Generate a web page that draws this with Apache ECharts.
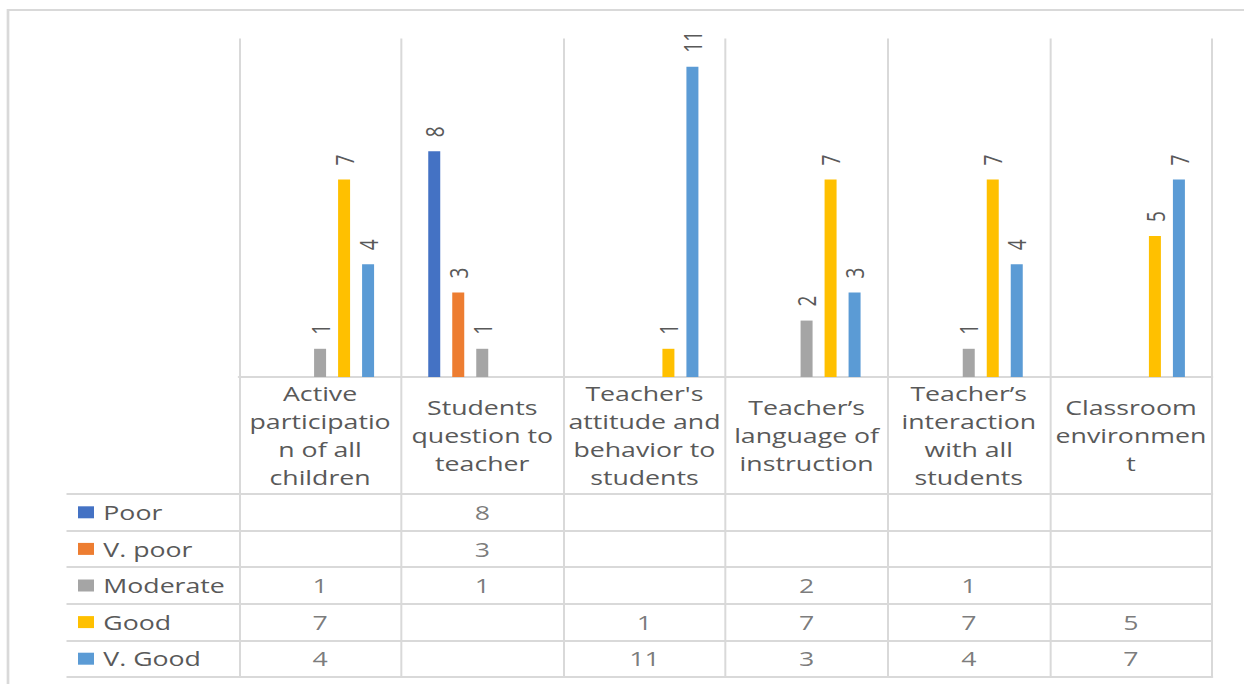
<!DOCTYPE html>
<html>
<head>
<meta charset="utf-8">
<script src="https://cdn.jsdelivr.net/npm/echarts@6/dist/echarts.min.js"></script>
<style>
  html, body { margin: 0; padding: 0; background: #fff; overflow: hidden; }
  #wrap { width: 1244px; height: 684px; overflow: hidden; }
  /* The figure is laid out in a narrower box and widened horizontally. */
  #chart { width: 933px; height: 684px; transform: scaleX(1.33333); transform-origin: 0 0; }
</style>
</head>
<body>
<div id="wrap"><div id="chart"></div></div>
<script>
// Ratings per classroom aspect
const categories = [
  'Active\nparticipatio\nn of all\nchildren',
  'Students\nquestion to\nteacher',
  "Teacher's\nattitude and\nbehavior to\nstudents",
  'Teacher\u2019s\nlanguage of\ninstruction',
  'Teacher\u2019s\ninteraction\nwith all\nstudents',
  'Classroom\nenvironmen\nt'
];
const seriesNames = ['Poor', 'V. poor', 'Moderate', 'Good', 'V. Good'];
const poor     = [null, 8, null, null, null, null];
const veryPoor = [null, 3, null, null, null, null];
const moderate = [1, 1, null, 2, 1, null];
const good     = [7, null, 1, 7, 7, 5];
const veryGood = [4, null, 11, 3, 4, 7];
const seriesValues = [poor, veryPoor, moderate, good, veryGood];
const colors = ['#4472C4', '#ED7D31', '#A5A5A5', '#FFC000', '#5B9BD5'];

const SX = 4 / 3;          // horizontal widening applied by CSS
const W = 1244 / SX;       // layout width before widening
const px = x => x / SX;    // convert a screen x to layout x

const FONT = '"Open Sans", "Noto Sans", sans-serif';
const TEXT = '#595959';
const GRID_LINE = '#d9d9d9';

const plotLeft = px(239), plotRight = W - px(1212);
const tableLeft = px(66.5);
const legendColWidth = plotLeft - tableLeft;

const barSeries = seriesValues.map((vals, i) => ({
  name: seriesNames[i],
  type: 'bar',
  xAxisIndex: 0,
  yAxisIndex: 0,
  data: vals,
  barWidth: px(12),
  barGap: '100%',
  itemStyle: { color: colors[i] },
  label: {
    show: true,
    position: 'top',
    rotate: 90,
    align: 'left',
    verticalAlign: 'middle',
    distance: 14,
    color: TEXT,
    fontFamily: FONT,
    fontSize: 19
  }
}));

const tableSeries = seriesValues.map((vals, i) => ({
  name: seriesNames[i] + ' table',
  type: 'scatter',
  xAxisIndex: 1,
  yAxisIndex: 1,
  symbolSize: 0,
  silent: true,
  data: vals.map((v, c) => v == null ? null : [c, i, v]).filter(d => d),
  label: {
    show: true,
    position: 'inside',
    formatter: p => String(p.value[2]),
    color: TEXT,
    fontFamily: FONT,
    fontSize: 20
  }
}));

const legendRich = { t: { color: TEXT, fontFamily: FONT, fontSize: 20, padding: [0, 0, 0, 7] } };
colors.forEach((c, i) => {
  legendRich['m' + i] = { width: 12, height: 12, backgroundColor: c };
});

const option = {
  animation: false,
  backgroundColor: '#fff',
  textStyle: { fontFamily: FONT },
  graphic: [{
    type: 'rect',
    shape: { x: px(8), y: 10, width: 2000, height: 2000 },
    style: { fill: 'none', stroke: GRID_LINE, lineWidth: 2 },
    silent: true
  }],
  grid: [
    { left: plotLeft, right: plotRight, top: 38.5, bottom: 684 - 377 },
    { left: plotLeft, right: plotRight, top: 494, bottom: 684 - 677 }
  ],
  xAxis: [
    {
      gridIndex: 0,
      type: 'category',
      data: categories,
      axisLine: { show: true, lineStyle: { color: GRID_LINE, width: 2 } },
      axisTick: { show: true, length: 117, lineStyle: { color: GRID_LINE, width: px(2) } },
      splitLine: { show: true, lineStyle: { color: GRID_LINE, width: px(2) } },
      axisLabel: {
        interval: 0,
        color: TEXT,
        fontFamily: FONT,
        fontSize: 20,
        lineHeight: 28,
        verticalAlign: 'middle',
        margin: 58
      }
    },
    {
      gridIndex: 1,
      type: 'category',
      data: categories,
      axisLine: { show: true, lineStyle: { color: GRID_LINE, width: 2 } },
      axisTick: { show: false },
      axisLabel: { show: false },
      splitLine: { show: true, lineStyle: { color: GRID_LINE, width: px(2) } }
    },
    {
      gridIndex: 1,
      type: 'category',
      position: 'top',
      data: categories,
      axisLine: { show: true, lineStyle: { color: GRID_LINE, width: 2 } },
      axisTick: { show: false },
      axisLabel: { show: false }
    }
  ],
  yAxis: [
    { gridIndex: 0, type: 'value', min: 0, max: 12, show: false },
    {
      gridIndex: 1,
      type: 'category',
      data: seriesNames,
      inverse: true,
      axisLine: { show: true, lineStyle: { color: GRID_LINE, width: px(2) } },
      axisTick: { show: true, length: legendColWidth, lineStyle: { color: GRID_LINE, width: 2 } },
      splitLine: { show: true, lineStyle: { color: GRID_LINE, width: 2 } },
      axisLabel: {
        align: 'left',
        margin: plotLeft - px(78),
        formatter: (v, i) => '{m' + i + '|}{t|' + v + '}',
        rich: legendRich
      }
    },
    {
      gridIndex: 1,
      type: 'category',
      data: seriesNames,
      inverse: true,
      offset: legendColWidth,
      axisLine: { show: true, lineStyle: { color: GRID_LINE, width: px(2) } },
      axisTick: { show: false },
      axisLabel: { show: false }
    },
    {
      gridIndex: 1,
      type: 'category',
      position: 'right',
      data: seriesNames,
      inverse: true,
      axisLine: { show: true, lineStyle: { color: GRID_LINE, width: px(2) } },
      axisTick: { show: false },
      axisLabel: { show: false }
    }
  ],
  series: barSeries.concat(tableSeries)
};

const chart = echarts.init(document.getElementById('chart'), null, { renderer: 'svg' });
chart.setOption(option);
</script>
</body>
</html>
